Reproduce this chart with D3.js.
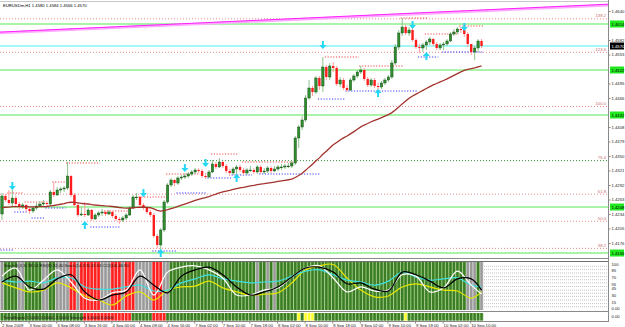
<!DOCTYPE html>
<html>
<head>
<meta charset="utf-8">
<script src="https://cdn.jsdelivr.net/npm/d3@7"></script>
<style>
  body { margin: 0; background: #fff; }
  svg text { font-family: "Liberation Sans", Arial, sans-serif; }
</style>
</head>
<body>
<div id="chart"></div>
<script>
const width = 625, height = 327;

// ---- EURUSDm H1 bars (open of each bar = previous close) ----
const firstOpen = 1.4234;
const closes = [
  1.4270,1.4262,1.4256,1.4266,1.4254,1.4248,1.4252,1.4244,1.4240,1.4246,
  1.4250,1.4254,1.4256,1.4254,1.4278,1.4272,1.4282,1.4284,1.4286,1.4310,
  1.4272,1.4252,1.4232,1.4234,1.4232,1.4242,1.4224,1.4232,1.4236,1.4238,
  1.4234,1.4238,1.4230,1.4224,1.4222,1.4226,1.4232,1.4246,1.4268,1.4268,
  1.4252,1.4246,1.4238,1.4232,1.4190,1.4172,1.4202,1.4258,1.4292,1.4302,
  1.4296,1.4306,1.4308,1.4310,1.4314,1.4318,1.4322,1.4320,1.4310,1.4308,
  1.4318,1.4334,1.4328,1.4338,1.4330,1.4320,1.4316,1.4324,1.4328,1.4322,
  1.4316,1.4322,1.4322,1.4318,1.4328,1.4318,1.4320,1.4326,1.4320,1.4324,
  1.4328,1.4328,1.4330,1.4330,1.4336,1.4386,1.4408,1.4422,1.4466,1.4486,
  1.4478,1.4506,1.4490,1.4528,1.4508,1.4530,1.4526,1.4494,1.4502,1.4486,
  1.4482,1.4502,1.4510,1.4518,1.4522,1.4504,1.4492,1.4502,1.4490,1.4488,
  1.4496,1.4502,1.4508,1.4536,1.4568,1.4596,1.4608,1.4596,1.4602,1.4582,
  1.4568,1.4566,1.4572,1.4578,1.4584,1.4574,1.4566,1.4572,1.4574,1.4580,
  1.4594,1.4598,1.4604,1.4602,1.4594,1.4574,1.4558,1.4566,1.4580,1.4570
];
const highs = [
  1.4276,1.4274,1.4282,1.4292,1.4270,1.4258,1.4256,1.4254,1.4248,1.4250,
  1.4256,1.4260,1.4262,1.4260,1.4282,1.4298,1.4288,1.4288,1.4290,1.4338,
  1.4312,1.4276,1.4256,1.4248,1.4258,1.4246,1.4244,1.4236,1.4240,1.4244,
  1.4240,1.4242,1.4240,1.4234,1.4228,1.4230,1.4236,1.4250,1.4272,1.4276,
  1.4270,1.4256,1.4250,1.4242,1.4236,1.4194,1.4206,1.4262,1.4296,1.4306,
  1.4304,1.4310,1.4312,1.4316,1.4318,1.4322,1.4326,1.4326,1.4324,1.4316,
  1.4322,1.4342,1.4338,1.4346,1.4340,1.4334,1.4324,1.4328,1.4332,1.4332,
  1.4326,1.4326,1.4330,1.4326,1.4332,1.4332,1.4326,1.4330,1.4330,1.4330,
  1.4332,1.4334,1.4334,1.4336,1.4340,1.4390,1.4412,1.4430,1.4472,1.4502,
  1.4490,1.4510,1.4510,1.4548,1.4532,1.4536,1.4538,1.4530,1.4508,1.4506,
  1.4492,1.4506,1.4514,1.4522,1.4530,1.4526,1.4508,1.4506,1.4506,1.4496,
  1.4500,1.4506,1.4512,1.4542,1.4574,1.4602,1.4626,1.4612,1.4608,1.4606,
  1.4586,1.4574,1.4576,1.4582,1.4588,1.4586,1.4578,1.4576,1.4578,1.4584,
  1.4598,1.4604,1.4608,1.4608,1.4606,1.4598,1.4574,1.4570,1.4584,1.4584
];
const lows = [
  1.4222,1.4258,1.4252,1.4250,1.4248,1.4242,1.4244,1.4238,1.4234,1.4236,
  1.4242,1.4248,1.4250,1.4250,1.4252,1.4268,1.4270,1.4276,1.4278,1.4282,
  1.4268,1.4248,1.4228,1.4230,1.4228,1.4230,1.4220,1.4222,1.4228,1.4230,
  1.4230,1.4232,1.4226,1.4220,1.4214,1.4218,1.4222,1.4230,1.4244,1.4262,
  1.4248,1.4242,1.4234,1.4228,1.4186,1.4166,1.4158,1.4198,1.4254,1.4288,
  1.4290,1.4292,1.4302,1.4304,1.4306,1.4310,1.4314,1.4316,1.4306,1.4304,
  1.4306,1.4316,1.4324,1.4326,1.4326,1.4316,1.4310,1.4312,1.4306,1.4318,
  1.4312,1.4312,1.4318,1.4314,1.4314,1.4314,1.4314,1.4316,1.4316,1.4318,
  1.4320,1.4322,1.4324,1.4326,1.4326,1.4332,1.4366,1.4402,1.4418,1.4462,
  1.4470,1.4474,1.4482,1.4478,1.4502,1.4502,1.4518,1.4490,1.4488,1.4482,
  1.4478,1.4480,1.4498,1.4506,1.4514,1.4500,1.4488,1.4488,1.4486,1.4478,
  1.4484,1.4492,1.4498,1.4504,1.4532,1.4562,1.4590,1.4592,1.4590,1.4578,
  1.4564,1.4556,1.4558,1.4562,1.4572,1.4570,1.4562,1.4562,1.4562,1.4570,
  1.4578,1.4590,1.4594,1.4596,1.4588,1.4568,1.4552,1.4542,1.4558,1.4566
];

// one label every 8 bars
const timeLabels = ["2 Sep 2009","3 Sep 00:00","3 Sep 08:00","3 Sep 16:00","4 Sep 00:00",
  "4 Sep 08:00","4 Sep 16:00","7 Sep 02:00","7 Sep 10:00","7 Sep 18:00","8 Sep 02:00",
  "8 Sep 10:00","8 Sep 18:00","9 Sep 02:00","9 Sep 10:00","9 Sep 18:00","10 Sep 02:00","10 Sep 10:00"];

const priceTicks = [1.4640,1.4611,1.4582,1.4553,1.4524,1.4495,1.4466,1.4437,1.4408,
  1.4379,1.4350,1.4321,1.4292,1.4263,1.4234,1.4205,1.4176,1.4147];

// horizontal levels
const srLevels = [1.4614, 1.4522, 1.4432, 1.4248, 1.4156];
const fibLow = 1.3991, fibHigh = 1.4450;
const fibLevels = [38.2, 50.0, 61.8, 76.4, 100.0, 123.6, 138.2];
const trendPoints = [[0, 1.4598], [139, 1.4642]];

// [fromBar, toBar, price]
const resistLines = [[2,6,1.4276],[7,12,1.4258],[15,18,1.4298],[19,28,1.4336],[30,36,1.4240],
  [40,48,1.4268],[48,57,1.4314],[61,68,1.4354],[70,84,1.4338],[94,103,1.4548],
  [104,116,1.4530],[116,123,1.4626],[123,132,1.4594],[133,139,1.4610]];
const supportLines = [[0,3,1.4162],[4,7,1.4238],[9,12,1.4226],[13,18,1.4246],[26,34,1.4208],
  [44,50,1.4160],[51,59,1.4276],[60,66,1.4306],[67,72,1.4312],[75,92,1.4314],
  [92,99,1.4464],[100,120,1.4480],[121,126,1.4548],[128,139,1.4558]];

// [bar, price]
const downArrows = [[3,1.4290],[41,1.4276],[53,1.4326],[59,1.4336],[93,1.4572],[119,1.4612],[134,1.4608]];
const upArrows = [[24,1.4212],[46,1.4156],[68,1.4306],[109,1.4476],[123,1.4550]];

const maPeriod = 50, maSeed = 1.4246;

// ---- oscillator window (values every 4 bars) ----
const oscBars = [0,4,8,12,16,20,24,28,32,36,40,44,48,52,56,60,64,68,72,76,80,84,88,92,96,100,104,108,112,116,120,124,128,132,136,139];
const oscWhite  = [73,91,42,64,87,60,24,20,36,42,87,31,82,93,96,87,69,31,31,42,47,71,91,96,69,38,49,40,42,76,73,38,47,84,53,33];
const oscBlack  = [60,73,49,44,67,76,38,20,31,38,73,53,36,73,87,93,76,49,31,38,49,71,91,93,82,56,58,44,40,82,76,62,47,67,67,42];
const oscCyan   = [64,60,62,58,69,69,49,44,44,49,53,40,42,58,67,76,67,62,58,60,62,73,84,87,76,64,60,53,62,82,71,64,67,69,53,49];
const oscYellow = [58,47,38,42,58,47,29,20,9,29,38,20,42,49,51,62,47,38,31,33,36,58,87,96,99,69,42,27,29,49,56,49,42,40,24,38];
const oscLevels = [95, 88, 80, 72, 65, 58, 50, 42, 35, 28, 20, 12, 5];
const oscTicks = [100, 85, 70, 55, 45, 30, 15];
// background state per bar: g = up, s = flat, r = down
const zoneRuns = [["s",1],["g",4],["s",2],["g",5],["s",2],["g",2],["s",4],["r",2],["s",1],["r",6],
  ["s",3],["r",3],["s",1],["r",3],["s",5],["r",3],["s",2],["g",25],["s",1],["g",2],["s",1],
  ["g",1],["s",1],["g",55],["s",3],["g",1],["s",1]];
const stripRuns = [["g",24],["r",14],["g",6],["r",4],["g",38],["y",1],["g",1],["y",3],["g",26],["y",1],["g",22]];

// ---------------------------------------------------------------
const plotRight = 608;
const fs = 4.2;

const svg = d3.select("#chart").append("svg")
    .attr("width", width)
    .attr("height", height);
svg.append("rect").attr("width", width).attr("height", height).attr("fill", "#fff");

const x = d3.scaleLinear().domain([0, closes.length - 1]).range([2, 2 + 3.45 * (closes.length - 1)]);
const y = d3.scaleLinear().domain([1.4150, 1.4656]).range([256, 3]);
const yo = d3.scaleLinear().domain([0, 100]).range([309, 264]);

svg.append("clipPath").attr("id", "mainClip")
  .append("rect").attr("x", 0).attr("y", 2).attr("width", plotRight).attr("height", 256);
svg.append("clipPath").attr("id", "oscClip")
  .append("rect").attr("x", 0).attr("y", 262).attr("width", plotRight).attr("height", 48);

const main = svg.append("g").attr("clip-path", "url(#mainClip)");

// fibonacci levels
const fibPrice = l => fibLow + (fibHigh - fibLow) * l / 100;
main.append("g").selectAll("line").data(fibLevels).enter().append("line")
    .attr("x1", 0).attr("x2", plotRight)
    .attr("y1", d => y(fibPrice(d)) + 0.5).attr("y2", d => y(fibPrice(d)) + 0.5)
    .attr("stroke", d => d === 76.4 ? "#2f8f2f" : "#e88a8a")
    .attr("stroke-width", 1)
    .attr("stroke-dasharray", "1,2");

// support / resistance levels
main.append("g").selectAll("line").data(srLevels).enter().append("line")
    .attr("x1", 0).attr("x2", plotRight)
    .attr("y1", d => y(d)).attr("y2", d => y(d))
    .attr("stroke", "#8ef08e").attr("stroke-width", 1.3);

// current price line
const lastClose = closes[closes.length - 1];
main.append("line")
    .attr("x1", 0).attr("x2", plotRight)
    .attr("y1", y(lastClose)).attr("y2", y(lastClose))
    .attr("stroke", "#86f4f4").attr("stroke-width", 1.5);

// trend line, extended over the whole window
const slope = (trendPoints[1][1] - trendPoints[0][1]) / (trendPoints[1][0] - trendPoints[0][0]);
const trendAt = b => trendPoints[0][1] + slope * (b - trendPoints[0][0]);
const bLeft = x.invert(0), bRight = x.invert(plotRight);
main.append("line")
    .attr("x1", 0).attr("x2", plotRight)
    .attr("y1", y(trendAt(bLeft)) + 1).attr("y2", y(trendAt(bRight)) + 1)
    .attr("stroke", "#ffa8ff").attr("stroke-width", 2.5);
main.append("line")
    .attr("x1", 0).attr("x2", plotRight)
    .attr("y1", y(trendAt(bLeft))).attr("y2", y(trendAt(bRight)))
    .attr("stroke", "#ff20ff").attr("stroke-width", 1);

// dotted fractal levels
main.append("g").selectAll("line").data(resistLines).enter().append("line")
    .attr("x1", d => x(d[0]) - 1.5).attr("x2", d => x(d[1]) + 1.5)
    .attr("y1", d => y(d[2])).attr("y2", d => y(d[2]))
    .attr("stroke", "#f04848").attr("stroke-width", 1.2).attr("stroke-dasharray", "1.2,1.6");
main.append("g").selectAll("line").data(supportLines).enter().append("line")
    .attr("x1", d => x(d[0]) - 1.5).attr("x2", d => x(d[1]) + 1.5)
    .attr("y1", d => y(d[2])).attr("y2", d => y(d[2]))
    .attr("stroke", "#3a3aff").attr("stroke-width", 1.2).attr("stroke-dasharray", "1.2,1.6");

// candles
const bars = closes.map((c, i) => ({ i, open: i ? closes[i - 1] : firstOpen, close: c, high: highs[i], low: lows[i] }));
const candle = main.append("g").selectAll("g").data(bars).enter().append("g");
candle.append("line")
    .attr("x1", d => x(d.i)).attr("x2", d => x(d.i))
    .attr("y1", d => y(d.high)).attr("y2", d => y(d.low))
    .attr("stroke", d => d.close >= d.open ? "#8cc48c" : "#ff9c9c")
    .attr("stroke-width", 1);
candle.append("rect")
    .attr("x", d => x(d.i) - 1.2)
    .attr("width", 2.4)
    .attr("y", d => y(Math.max(d.open, d.close)))
    .attr("height", d => Math.max(0.8, Math.abs(y(d.open) - y(d.close))))
    .attr("fill", d => d.close >= d.open ? "#2f8f2f" : "#ff1c1c")
    .attr("stroke", d => d.close >= d.open ? "#0e3e0e" : "none")
    .attr("stroke-width", 0.4);

// moving average
const ma = [];
let prev = maSeed;
closes.forEach(c => { prev = prev + 2 / (maPeriod + 1) * (c - prev); ma.push(prev); });
main.append("path")
    .datum(ma)
    .attr("fill", "none")
    .attr("stroke", "#a3312c")
    .attr("stroke-width", 1.3)
    .attr("d", d3.line().x((d, i) => x(i)).y(d => y(d)));

// arrows
const downPath = "M-1,-4h2v4h2.5l-3.5,4l-3.5,-4h2.5z";
const upPath = "M-1,4h2v-4h2.5l-3.5,-4l-3.5,4h2.5z";
main.append("g").selectAll("path").data(downArrows).enter().append("path")
    .attr("d", downPath).attr("fill", "#22d8f4")
    .attr("transform", d => `translate(${x(d[0])},${y(d[1])})`);
main.append("g").selectAll("path").data(upArrows).enter().append("path")
    .attr("d", upPath).attr("fill", "#22d8f4")
    .attr("transform", d => `translate(${x(d[0])},${y(d[1])})`);

// fib labels
svg.append("g").selectAll("text").data(fibLevels).enter().append("text")
    .attr("x", plotRight - 2).attr("y", d => y(fibPrice(d)) - 1)
    .attr("text-anchor", "end")
    .attr("font-size", fs)
    .attr("fill", "#c86a6a")
    .text(d => d.toFixed(1));

// title
const last = bars[bars.length - 1];
svg.append("text")
    .attr("x", 3).attr("y", 7)
    .attr("font-size", fs)
    .attr("fill", "#000")
    .text(`EURUSDm,H1  ${[last.open, last.high, last.low, last.close].map(d3.format(".4f")).join(" ")}`);

// frame
svg.append("line").attr("x1", 0).attr("x2", plotRight).attr("y1", 1.5).attr("y2", 1.5).attr("stroke", "#c8c8c8");
svg.append("line").attr("x1", 0).attr("x2", plotRight).attr("y1", 258.5).attr("y2", 258.5).attr("stroke", "#8a8a8a");
svg.append("line").attr("x1", plotRight + 0.5).attr("x2", plotRight + 0.5).attr("y1", 0).attr("y2", 322).attr("stroke", "#8a8a8a");

// value boxes on the axis hide the tick labels behind them
const boxes = srLevels.map(v => ({ v, fill: "#22e822", color: "#000" }))
    .concat([{ v: lastClose, fill: "#000", color: "#fff" }]);
const visibleTicks = priceTicks.filter(t => boxes.every(b => Math.abs(y(t) - y(b.v)) > 5));

// price axis
const axis = svg.append("g")
    .attr("transform", `translate(${plotRight + 0.5},0)`)
    .call(d3.axisRight(y).tickValues(visibleTicks).tickSize(2).tickFormat(d3.format(".4f")));
axis.select(".domain").remove();
axis.selectAll("line").attr("stroke", "#8a8a8a");
axis.selectAll("text").attr("font-size", fs).attr("fill", "#222").attr("x", 3);

const box = svg.append("g").selectAll("g").data(boxes).enter().append("g")
    .attr("transform", d => `translate(${plotRight + 1},${y(d.v)})`);
box.append("rect").attr("x", 1).attr("y", -3.5).attr("width", 14).attr("height", 7).attr("fill", d => d.fill);
box.append("text").attr("x", 2.5).attr("y", 1.5).attr("font-size", fs).attr("fill", d => d.color)
    .text(d => d3.format(".4f")(d.v));

// ---- oscillator window ----
const expand = runs => runs.flatMap(([c, n]) => Array.from({ length: n }, () => c));
const zoneFill = {
  g: ["#8dbf70", "#3b7d24"],
  s: ["#d0d0d0", "#9a9a9a"],
  r: ["#ff8c8c", "#ff2020"],
  y: ["#ffffa8", "#ffff30"]
};
const osc = svg.append("g").attr("clip-path", "url(#oscClip)");

osc.append("g").selectAll("line").data(oscLevels).enter().append("line")
    .attr("x1", 0).attr("x2", plotRight)
    .attr("y1", d => yo(d)).attr("y2", d => yo(d))
    .attr("stroke", "#9a9a9a").attr("stroke-width", 0.6).attr("stroke-dasharray", "1,1");

const zones = expand(zoneRuns).map((z, i) => ({ z, i }));
const col = osc.append("g").selectAll("g").data(zones).enter().append("g");
col.append("rect")
    .attr("x", d => x(d.i) - 1.725).attr("width", 3.45)
    .attr("y", 262).attr("height", 48)
    .attr("fill", d => zoneFill[d.z][0]);
col.append("rect")
    .attr("x", d => x(d.i) - 1.2).attr("width", 2.4)
    .attr("y", 262).attr("height", 48)
    .attr("fill", d => zoneFill[d.z][1]);

const oscLine = d3.line().curve(d3.curveCatmullRom).x((d, k) => x(oscBars[k])).y(d => yo(d));
[[oscYellow, "#e6e600"], [oscCyan, "#3fe0e0"], [oscWhite, "#ffffff"], [oscBlack, "#000000"]]
  .forEach(([vals, color]) => {
    osc.append("path").datum(vals)
        .attr("fill", "none").attr("stroke", color).attr("stroke-width", 1.2)
        .attr("d", oscLine);
  });

svg.append("text").attr("x", 4).attr("y", 267).attr("font-size", fs).attr("fill", "#111")
    .text("Stoch(5,3,3) 38.14  RSI(8) 52.40  Stoch(14,3,3) 41.63  CCI(14) 46.90");

svg.append("line").attr("x1", 0).attr("x2", plotRight).attr("y1", 261.5).attr("y2", 261.5).attr("stroke", "#707070");
svg.append("line").attr("x1", 0).attr("x2", plotRight).attr("y1", 311.5).attr("y2", 311.5).attr("stroke", "#8a8a8a");

svg.append("g").selectAll("text").data(oscTicks).enter().append("text")
    .attr("x", plotRight + 3.5).attr("y", d => yo(d) + 1.5)
    .attr("font-size", fs).attr("fill", "#222")
    .text(d => d);
svg.append("text").attr("x", plotRight + 3.5).attr("y", 310).attr("font-size", fs).attr("fill", "#222").text("0.00");

// signal strip
const strip = expand(stripRuns).map((z, i) => ({ z, i }));
const cell = svg.append("g").selectAll("g").data(strip).enter().append("g");
cell.append("rect")
    .attr("x", d => x(d.i) - 1.725).attr("width", 3.45)
    .attr("y", 313).attr("height", 7.5)
    .attr("fill", d => zoneFill[d.z][0]);
cell.append("rect")
    .attr("x", d => x(d.i) - 1.2).attr("width", 2.4)
    .attr("y", 313).attr("height", 7.5)
    .attr("fill", d => zoneFill[d.z][1]);
svg.append("text").attr("x", 3).attr("y", 318.5).attr("font-size", fs).attr("fill", "#111")
    .text("TrendSignal 1.0000 0.0000 -1.0000  Strength 1.0000 0.0000");
svg.append("line").attr("x1", 0).attr("x2", plotRight).attr("y1", 321.5).attr("y2", 321.5).attr("stroke", "#8a8a8a");
svg.append("text").attr("x", plotRight + 3.5).attr("y", 318).attr("font-size", fs).attr("fill", "#222").text("0.00");

// time axis
svg.append("g").selectAll("text").data(timeLabels).enter().append("text")
    .attr("x", (d, k) => x(k * 8))
    .attr("y", 326.5)
    .attr("font-size", fs)
    .attr("fill", "#222")
    .text(d => d);
svg.append("g").selectAll("line").data(timeLabels).enter().append("line")
    .attr("x1", (d, k) => x(k * 8) - 0.5).attr("x2", (d, k) => x(k * 8) - 0.5)
    .attr("y1", 321.5).attr("y2", 323.5)
    .attr("stroke", "#8a8a8a");
</script>
</body>
</html>
